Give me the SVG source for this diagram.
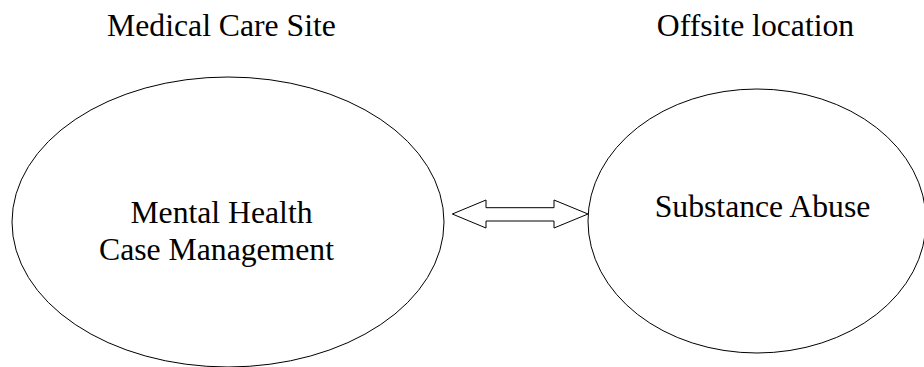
<svg xmlns="http://www.w3.org/2000/svg" width="924" height="367" viewBox="0 0 924 367">
<style>
text{font-size:31.7px;fill:#000;text-anchor:middle}
.node{fill:#fff;stroke:#000;stroke-width:1}
.conn{fill:#fff;stroke:#000;stroke-width:1;stroke-linejoin:miter}
</style>
<rect width="924" height="367" fill="#fff"/>
<g font-family="'Liberation Serif', 'Times New Roman', Times, serif">
<text x="221.5" y="36">Medical Care Site</text>
<text x="755.5" y="36">Offsite location</text>
<g id="mental-health">
<ellipse class="node" cx="228" cy="222" rx="216" ry="145"/>
<text x="221.5" y="222.7">Mental Health</text>
<text x="216.5" y="260">Case Management</text>
</g>
<g id="substance-abuse">
<ellipse class="node" cx="757" cy="221" rx="169" ry="132"/>
<text x="762.5" y="216.7">Substance Abuse</text>
</g>
</g>
<g id="connectors">
<polygon class="conn" points="452.3,214 486,200 486,207.7 554,207.7 554,200 588,214 554,228 554,221 486,221 486,228"/>
</g>
</svg>
